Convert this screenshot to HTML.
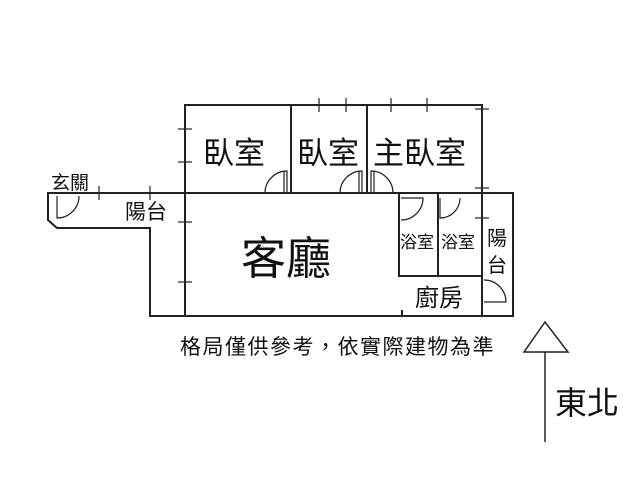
<!DOCTYPE html>
<html><head><meta charset="utf-8"><style>
html,body{margin:0;padding:0;background:#fff;}
svg{display:block;}
text{font-family:"Liberation Sans","Noto Sans CJK TC",sans-serif;fill:#111;}
</style></head><body>
<svg width="640" height="480" viewBox="0 0 640 480" xmlns="http://www.w3.org/2000/svg">
<g stroke="#222" stroke-width="2" fill="none">
<path d="M185 105 H482 V316 H150 V228 H57 L48 220 V193 H185 Z"/>
<line x1="185" y1="105" x2="185" y2="316"/>
<line x1="185" y1="193" x2="399" y2="193"/>
<line x1="291" y1="105" x2="291" y2="193"/>
<line x1="367" y1="105" x2="367" y2="193"/>
<path d="M399 193 H513 V316 H482"/>
<path d="M399 193 V276 H482"/>
<line x1="438" y1="193" x2="438" y2="276"/>
<line x1="482" y1="193" x2="482" y2="316"/>
</g>
<g stroke="#222" stroke-width="1.2" fill="none">
<line x1="178" y1="129" x2="192" y2="129"/><line x1="178" y1="162" x2="192" y2="162"/>
<line x1="178" y1="222" x2="192" y2="222"/><line x1="178" y1="282" x2="192" y2="282"/>
<line x1="99" y1="186" x2="99" y2="200"/><line x1="150" y1="186" x2="150" y2="200"/>
<line x1="319" y1="98" x2="319" y2="112"/><line x1="346" y1="98" x2="346" y2="112"/>
<line x1="391" y1="98" x2="391" y2="112"/><line x1="427" y1="98" x2="427" y2="112"/>
<line x1="475" y1="109" x2="489" y2="109"/>
<line x1="475" y1="188" x2="489" y2="188"/><line x1="475" y1="218" x2="489" y2="218"/>
<path d="M287 193 V171 A22 22 0 0 0 265 193"/><line x1="284" y1="171" x2="284" y2="193"/>
<path d="M362 193 V171 A22 22 0 0 0 340 193"/><line x1="359" y1="171" x2="359" y2="193"/>
<path d="M371 193 V171 A22 22 0 0 1 393 193"/><line x1="374" y1="171" x2="374" y2="193"/>
<path d="M401 198 H423 A22 22 0 0 1 401 220"/>
<path d="M440 198 V218 A20 20 0 0 0 460 198"/>
<path d="M57 196 V218 A22 22 0 0 0 79 196"/>
<path d="M484 302 H506 A22 22 0 0 0 484 280"/>
<path d="M545 322 L524 352 H568 Z" stroke-width="1.5"/>
<line x1="545" y1="352" x2="545" y2="442" stroke-width="1.5"/>
<line x1="402" y1="310" x2="402" y2="316" stroke-width="2"/>
</g>
<text x="203" y="164" font-size="31">臥室</text>
<text x="297" y="164" font-size="31">臥室</text>
<text x="373" y="164" font-size="31">主臥室</text>
<text x="241" y="274" font-size="45">客廳</text>
<text x="51" y="189" font-size="19">玄關</text>
<text x="125" y="219" font-size="21">陽台</text>
<text x="400" y="248" font-size="17">浴室</text>
<text x="441" y="248" font-size="17">浴室</text>
<text x="487" y="245" font-size="20">陽</text>
<text x="487" y="272" font-size="20">台</text>
<text x="415" y="306" font-size="24">廚房</text>
<text x="180" y="354" font-size="21" letter-spacing="1.5">格局僅供參考，依實際建物為準</text>
<text x="555" y="414" font-size="32">東北</text>
</svg>
</body></html>
